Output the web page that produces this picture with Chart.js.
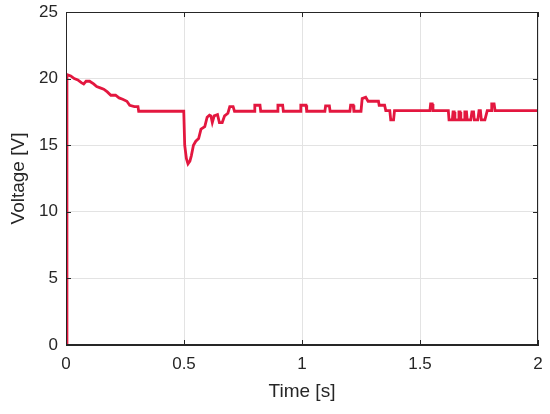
<!DOCTYPE html>
<html>
<head>
<meta charset="utf-8">
<script src="https://cdn.jsdelivr.net/npm/chart.js@4"></script>
<style>
  html, body { margin: 0; padding: 0; background: #fff; }
  #wrap { width: 550px; height: 414px; }
</style>
</head>
<body>
<div id="wrap"><canvas id="voltChart"></canvas></div>
<script>
const times = [
  0, 0.004, 0.02, 0.035, 0.05, 0.065, 0.075, 0.085, 0.1, 0.117,
  0.13, 0.145, 0.16, 0.175, 0.19, 0.21, 0.225, 0.24, 0.258, 0.27,
  0.29, 0.305, 0.308, 0.499, 0.503, 0.51, 0.517, 0.525, 0.531, 0.54,
  0.55, 0.562, 0.572, 0.588, 0.598, 0.608, 0.614, 0.62, 0.628, 0.642,
  0.65, 0.662, 0.672, 0.686, 0.694, 0.708, 0.714, 0.797, 0.8, 0.822,
  0.825, 0.895, 0.898, 0.918, 0.921, 0.992, 0.995, 1.017, 1.02, 1.097,
  1.1, 1.116, 1.119, 1.203, 1.206, 1.217, 1.22, 1.25, 1.255, 1.27,
  1.28, 1.31, 1.324, 1.327, 1.35, 1.355, 1.372, 1.376, 1.388, 1.392,
  1.542, 1.545, 1.552, 1.555, 1.62, 1.623, 1.637, 1.64, 1.645, 1.648,
  1.662, 1.665, 1.67, 1.673, 1.687, 1.69, 1.697, 1.7, 1.715, 1.72,
  1.727, 1.73, 1.745, 1.75, 1.756, 1.76, 1.775, 1.785, 1.801, 1.804,
  1.814, 1.818, 2
];
const voltage = [
  0, 20.3, 20.2, 20.0, 19.9, 19.7, 19.6, 19.8, 19.8, 19.6,
  19.4, 19.3, 19.2, 19.0, 18.75, 18.75, 18.55, 18.45, 18.3, 18.0,
  17.9, 17.9, 17.55, 17.55, 15.0, 14.0, 13.6, 13.8, 14.2, 15.0,
  15.3, 15.5, 16.2, 16.4, 17.1, 17.25, 17.2, 16.7, 17.2, 17.3,
  16.7, 16.7, 17.2, 17.4, 17.9, 17.9, 17.55, 17.55, 18.0, 18.0,
  17.55, 17.55, 18.0, 18.0, 17.55, 17.55, 18.0, 18.0, 17.55, 17.55,
  17.95, 17.95, 17.55, 17.55, 18.0, 18.0, 17.55, 17.55, 18.5, 18.6,
  18.3, 18.3, 18.3, 18.0, 18.0, 17.6, 17.6, 16.9, 16.9, 17.6,
  17.6, 18.1, 18.1, 17.6, 17.6, 16.9, 16.9, 17.5, 17.5, 16.9,
  16.9, 17.5, 17.5, 16.9, 16.9, 17.5, 17.5, 16.9, 16.9, 17.5,
  17.5, 16.9, 16.9, 17.6, 17.6, 16.9, 16.9, 17.6, 17.6, 18.1,
  18.1, 17.6, 17.6
];
const xTicks = [0, 0.5, 1, 1.5, 2];
const yTicks = [0, 5, 10, 15, 20, 25];

const points = times.map((t, i) => ({ x: t, y: voltage[i] }));

const axisColor = '#262626';
const gridColor = '#e3e3e3';

// full box around the plot area with inward ticks, like a matlab axes
const boxPlugin = {
  id: 'box',
  afterDraw(chart) {
    const a = chart.chartArea;
    const c = chart.ctx;
    const xs = chart.scales.x, ys = chart.scales.y;
    const len = 5;
    c.save();
    c.strokeStyle = axisColor;
    c.lineWidth = 1;
    c.strokeRect(a.left + 0.5, a.top + 0.5, a.right - a.left - 1, a.bottom - a.top - 1);
    c.beginPath();
    xTicks.forEach(v => {
      const px = Math.round(xs.getPixelForValue(v)) + 0.5;
      c.moveTo(px, a.bottom); c.lineTo(px, a.bottom - len);
      c.moveTo(px, a.top); c.lineTo(px, a.top + len);
    });
    yTicks.forEach(v => {
      const py = Math.round(ys.getPixelForValue(v)) + 0.5;
      c.moveTo(a.left, py); c.lineTo(a.left + len, py);
      c.moveTo(a.right, py); c.lineTo(a.right - len, py);
    });
    c.stroke();
    c.restore();
  }
};

const ctx = document.getElementById('voltChart').getContext('2d');
const voltChart = new Chart(ctx, {
  type: 'line',
  data: {
    datasets: [{
      label: 'Voltage',
      data: points,
      borderColor: '#e3173f',
      borderWidth: 2.8,
      pointRadius: 0,
      fill: false,
      tension: 0
    }]
  },
  options: {
    responsive: true,
    maintainAspectRatio: false,
    animation: false,
    layout: { padding: { top: 12, right: 12, left: 0, bottom: 0 } },
    plugins: { legend: { display: false }, tooltip: { enabled: false } },
    scales: {
      x: {
        type: 'linear',
        min: 0,
        max: 2,
        afterBuildTicks(scale) { scale.ticks = xTicks.map(v => ({ value: v })); },
        afterFit(scale) {
          scale.height = 69;
          scale.paddingLeft = 0;
          scale.paddingRight = 0;
        },
        grid: { color: gridColor, drawTicks: false },
        border: { color: axisColor },
        ticks: {
          color: axisColor,
          padding: 9,
          maxRotation: 0,
          callback: v => String(v),
          font: { family: 'Liberation Sans, Arial, sans-serif', size: 17 }
        },
        title: {
          display: true,
          text: 'Time [s]',
          color: axisColor,
          padding: { top: 2, bottom: 11 },
          font: { family: 'Liberation Sans, Arial, sans-serif', size: 19 }
        }
      },
      y: {
        min: 0,
        max: 25,
        afterBuildTicks(scale) { scale.ticks = yTicks.map(v => ({ value: v })); },
        afterFit(scale) {
          scale.width = 66;
          scale.paddingTop = 0;
          scale.paddingBottom = 0;
        },
        grid: { color: gridColor, drawTicks: false },
        border: { color: axisColor },
        ticks: {
          color: axisColor,
          padding: 8,
          callback: v => String(v),
          font: { family: 'Liberation Sans, Arial, sans-serif', size: 17 }
        },
        title: {
          display: true,
          text: 'Voltage [V]',
          color: axisColor,
          padding: { top: 7, bottom: 2 },
          font: { family: 'Liberation Sans, Arial, sans-serif', size: 19 }
        }
      }
    }
  },
  plugins: [boxPlugin]
});
</script>
</body>
</html>
